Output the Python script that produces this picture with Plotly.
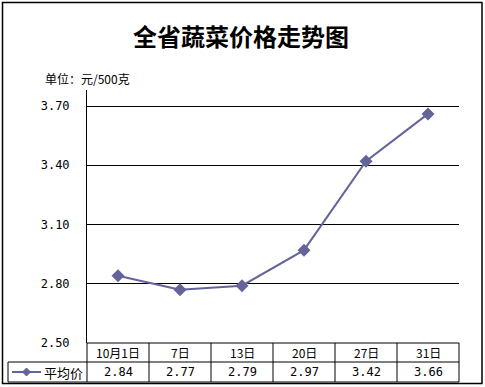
import plotly.graph_objects as go

categories = ["10月1日", "7日", "13日", "20日", "27日", "31日"]
avg_price = [2.84, 2.77, 2.79, 2.97, 3.42, 3.66]
value_labels = ["2.84", "2.77", "2.79", "2.97", "3.42", "3.66"]
series_name = "平均价"
title_text = "全省蔬菜价格走势图"
unit_text = "单位：元/500克"

W, H = 485, 387
L, R, T, B = 87, 26, 90, 44
PW, PH = W - L - R, H - T - B

def px(x):
    return (x - L) / PW

def py(y):
    return (H - B - y) / PH

LINE_COLOR = "#64649a"
CJK = "Noto Sans CJK SC"
NUM = "DejaVu Sans Mono"

fig = go.Figure()
fig.add_trace(go.Scatter(
    x=categories, y=avg_price, mode="lines+markers", name=series_name,
    line=dict(color=LINE_COLOR, width=2),
    marker=dict(symbol="diamond", size=10, color=LINE_COLOR),
    showlegend=False, cliponaxis=False, hoverinfo="skip",
))

shapes = []
# outer chart border
shapes.append(dict(type="rect", xref="paper", yref="paper",
                   x0=px(2.5), x1=px(482), y0=py(383.5), y1=py(2.5),
                   line=dict(color="black", width=1.5), layer="below"))
# table lines
n = len(categories)
y_top, y_mid, y_bot = 0, py(362), py(382)
shapes.append(dict(type="line", xref="paper", yref="paper", x0=0, x1=1, y0=y_top, y1=y_top,
                   line=dict(color="black", width=1)))
for yy in (y_mid, y_bot):
    shapes.append(dict(type="line", xref="paper", yref="paper", x0=px(8), x1=1, y0=yy, y1=yy,
                       line=dict(color="black", width=1)))
for k in range(n + 1):
    shapes.append(dict(type="line", xref="paper", yref="paper", x0=k / n, x1=k / n,
                       y0=y_top, y1=y_bot, line=dict(color="black", width=1)))
shapes.append(dict(type="line", xref="paper", yref="paper", x0=px(8), x1=px(8),
                   y0=y_mid, y1=y_bot, line=dict(color="black", width=1)))
# legend key
shapes.append(dict(type="line", xref="paper", yref="paper", x0=px(12), x1=px(41),
                   y0=py(372), y1=py(372), line=dict(color=LINE_COLOR, width=2)))
shapes.append(dict(type="path", xref="paper", yref="paper", xsizemode="pixel", ysizemode="pixel",
                   xanchor=px(26.5), yanchor=py(372),
                   path="M-4,0 L0,4 L4,0 L0,-4 Z",
                   fillcolor=LINE_COLOR, line=dict(color=LINE_COLOR, width=1)))

annotations = [
    dict(text=f"<b>{title_text}</b>", xref="paper", yref="paper", x=px(241), y=py(36),
         showarrow=False, font=dict(family=CJK, size=24, color="black"), xanchor="center", yanchor="middle"),
    dict(text=unit_text, xref="paper", yref="paper", x=px(43), y=py(78),
         showarrow=False, font=dict(family=CJK, size=12, color="black"), xanchor="left", yanchor="middle"),
    dict(text=series_name, xref="paper", yref="paper", x=px(42), y=py(372),
         showarrow=False, font=dict(family=CJK, size=13, color="black"), xanchor="left", yanchor="middle"),
]
for c, v in zip(categories, value_labels):
    annotations.append(dict(text=c, xref="x", yref="paper", x=c, y=py(352.5), showarrow=False,
                            font=dict(family=CJK, size=12, color="black"), yanchor="middle"))
    annotations.append(dict(text=v, xref="x", yref="paper", x=c, y=py(372), showarrow=False,
                            font=dict(family=NUM, size=12, color="black"), yanchor="middle"))

fig.update_layout(
    width=W, height=H, margin=dict(l=L, r=R, t=T, b=B),
    paper_bgcolor="white", plot_bgcolor="white",
    shapes=shapes, annotations=annotations, showlegend=False,
    xaxis=dict(type="category", range=[-0.5, n - 0.5], showticklabels=False, showgrid=False,
               zeroline=False, showline=False, ticks=""),
    yaxis=dict(range=[2.5, 3.781], tick0=2.5, dtick=0.3, tickformat=".2f",
               showgrid=True, gridcolor="black", gridwidth=1, zeroline=False,
               showline=True, linecolor="black", linewidth=1, ticks="", ticklabelstandoff=14,
               tickfont=dict(family=NUM, size=12, color="black")),
)

fig.write_html("out.html", config={"displayModeBar": False},
               post_script="document.body.style.margin='0';document.body.style.overflow='hidden';")
